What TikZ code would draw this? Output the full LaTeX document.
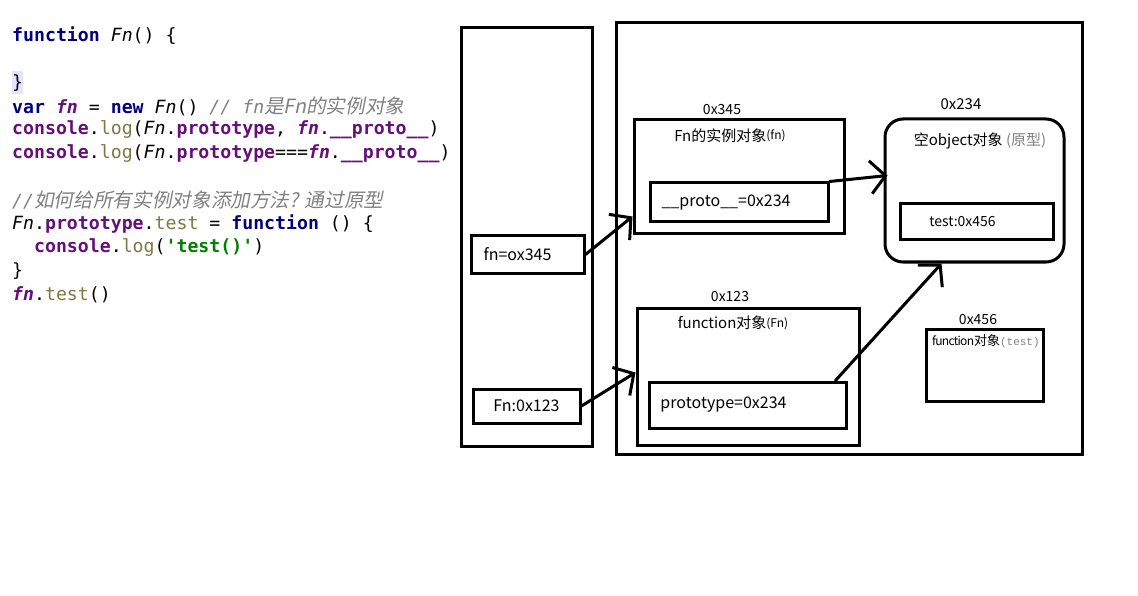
\documentclass[tikz,border=0pt]{standalone}
\usepackage{fontspec}
\usepackage{xcolor}
\usetikzlibrary{arrows.meta, positioning, calc}
\newfontfamily\codefont{DejaVu Sans Mono}
\newfontfamily\cjkcode[Scale=1.08]{Noto Sans CJK SC}
\newfontfamily\cjkit[Scale=1.08,FakeSlant=0.2]{Noto Sans CJK SC}
\newfontfamily\dfont{Noto Sans CJK SC}
\newfontfamily\gfont{Liberation Mono}
\definecolor{kwnavy}{RGB}{0,0,128}
\definecolor{pvpurple}{RGB}{102,14,122}
\definecolor{olivegray}{RGB}{122,122,67}
\definecolor{cmtgray}{RGB}{128,128,128}
\definecolor{strgreen}{RGB}{0,128,0}
\definecolor{hlblue}{RGB}{228,228,255}
\newcommand{\kw}[1]{{\color{kwnavy}\bfseries #1}}
\newcommand{\pv}[1]{{\color{pvpurple}\bfseries\itshape #1}}
\newcommand{\pb}[1]{{\color{pvpurple}\bfseries #1}}
\newcommand{\fnit}[1]{{\itshape #1}}
\newcommand{\ol}[1]{{\color{olivegray}#1}}
\newcommand{\cmt}[1]{{\color{cmtgray}\itshape #1}}
\newcommand{\str}[1]{{\color{strgreen}\bfseries #1}}

\begin{document}
\begin{tikzpicture}[x=1pt, y=-1pt,
			codeline/.style={anchor=west, inner sep=0pt, font=\codefont\fontsize{18.2}{22}\selectfont},
			mem/.style={draw, line width=3pt, inner sep=0pt},
			slot/.style={draw, line width=3pt, inner sep=0pt, font=\dfont\fontsize{16}{19}\selectfont},
			addr/.style={inner sep=0pt, font=\dfont\fontsize{14}{16}\selectfont},
			title/.style={inner sep=0pt, font=\dfont\fontsize{15}{17}\selectfont},
			conn/.style={-{Straight Barb[length=15pt, width=33pt]}, line width=3pt, line cap=round}
			]
			\useasboundingbox (0,0) rectangle (1138,596);
			
			% code listing
			\node[codeline] (l1) at (12,36) {\kw{function} \fnit{Fn}() \{};
			\node[codeline, fill=hlblue, minimum height=23pt] (l3) at (12,83) {\}};
			\node[codeline] (l4) at (12,106.5) {\kw{var} \pv{fn} = \kw{new} \fnit{Fn}() \cmt{// fn\cjkit{是}Fn\cjkit{的实例对象}}};
			\node[codeline] (l5) at (12,130) {\pb{console}.\ol{log}(\fnit{Fn}.\pb{prototype}, \pv{fn}.\pb{\_\_proto\_\_})};
			\node[codeline] (l6) at (12,153.5) {\pb{console}.\ol{log}(\fnit{Fn}.\pb{prototype}===\pv{fn}.\pb{\_\_proto\_\_})};
			\node[codeline] (l8) at (12,200.5) {\cmt{//\cjkit{如何给所有实例对象添加方法}? \cjkit{通过原型}}};
			\node[codeline] (l9) at (12,224) {\fnit{Fn}.\pb{prototype}.\ol{test} = \kw{function} () \{};
			\node[codeline] (l10) at (12,247.5) {\ \ \pb{console}.\ol{log}(\str{\textquotesingle test()\textquotesingle})};
			\node[codeline] (l11) at (12,271) {\}};
			\node[codeline] (l12) at (12,294.5) {\pv{fn}.\ol{test}()};
			
			% stack and heap
			\node[mem, minimum width=131pt, minimum height=418pt] (stack) at (526.5,237) {};
			\node[mem, minimum width=466pt, minimum height=431pt] (heap) at (849,238.5) {};
			
			\node[slot, minimum width=113pt, minimum height=37pt] (fnvar) at (527.5,254.5) {\hspace*{-20pt}fn=ox345};
			\node[slot, minimum width=107pt, minimum height=34pt] (Fnvar) at (526.5,406) {Fn:0x123};
			
			% instance object
			\node[mem, minimum width=210pt, minimum height=114pt] (inst) at (739,177) {};
			\node[addr] (instaddr) at (722,110) {0x345};
			\node[title] (insttitle) at (730,136) {Fn的实例对象{\fontsize{12}{13}\selectfont\raisebox{2pt}{(fn)}}};
			\node[slot, minimum width=178pt, minimum height=39pt] (proto) at (739,202.5) {\hspace*{-26pt}\_\_proto\_\_=0x234};
			
			% prototype object
			\node[mem, rounded corners=18pt, minimum width=179pt, minimum height=143pt] (obj) at (974.5,190.5) {};
			\node[addr, font=\dfont\fontsize{15}{17}\selectfont] (objaddr) at (961,104) {0x234};
			\node[title] (objtitle) at (980,141) {空object对象 {\color{cmtgray}(原型)}};
			\node[slot, minimum width=153pt, minimum height=36pt, font=\dfont\fontsize{14}{16}\selectfont] (testp) at (976.5,222) {\hspace*{-28pt}test:0x456};
			
			% function object Fn
			\node[mem, minimum width=222pt, minimum height=137pt] (fobj) at (748,376.5) {};
			\node[addr] (fobjaddr) at (730,297) {0x123};
			\node[title] (fobjtitle) at (733,323) {function对象{\fontsize{12}{13}\selectfont\raisebox{1pt}{(Fn)}}};
			\node[slot, minimum width=197pt, minimum height=46pt] (protop) at (747.5,405) {\hspace*{-48pt}prototype=0x234};
			
			% function object test
			\node[mem, minimum width=117pt, minimum height=72pt] (testfn) at (984.5,365) {};
			\node[addr] (testaddr) at (978,320) {0x456};
			\node[title, anchor=west] (testtitle) at (932,341) {{\fontsize{12}{14}\selectfont\addfontfeatures{LetterSpace=-6}function}{\fontsize{13}{14}\selectfont 对象}{\gfont\fontsize{11}{13}\selectfont\color{cmtgray}(test)}};
			
			% references
			\draw[conn] (fnvar.east) -- ([yshift=19pt]inst.south west);
			\draw[conn] (Fnvar.east) -- ([yshift=4pt]fobj.west);
			\draw[conn] (proto.north east) -- ([xshift=4pt, yshift=15pt]obj.west);
			\draw[conn] ([xshift=-12pt]protop.north east) -- ([xshift=-33pt]obj.south);
		\end{tikzpicture}
\end{document}
